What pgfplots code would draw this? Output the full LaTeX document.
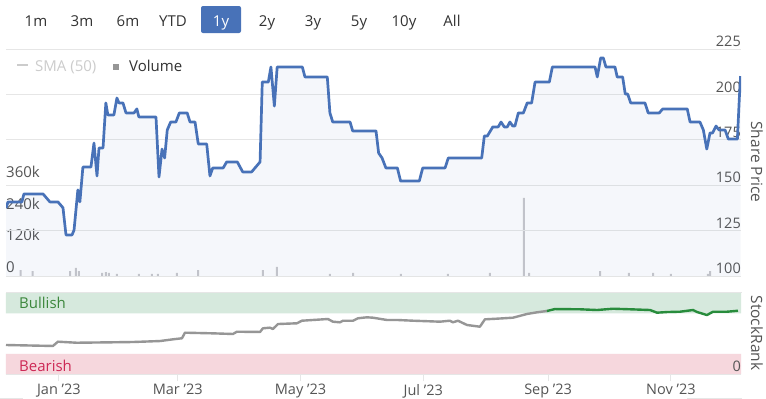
\documentclass[border=0pt]{standalone}
\usepackage{pgfplots}
\pgfplotsset{compat=1.18}
\usepackage{pgfplotstable}
\usepackage{fontspec}
\setmainfont{Open Sans}
\definecolor{priceblue}{RGB}{72,114,184}
\definecolor{gridc}{RGB}{230,230,230}
\definecolor{txt}{RGB}{85,85,85}
\definecolor{btntxt}{RGB}{51,51,51}
\definecolor{volc}{RGB}{200,200,204}
\definecolor{bullfill}{RGB}{214,233,221}
\definecolor{bearfill}{RGB}{246,215,221}
\definecolor{bulltxt}{RGB}{60,135,60}
\definecolor{beartxt}{RGB}{205,40,85}
\definecolor{rankgrey}{RGB}{150,150,150}
\definecolor{rankgreen}{RGB}{40,140,60}
\definecolor{legoff}{RGB}{204,204,204}
\pgfplotsset{/pgf/number format/assume math mode=true}

\pgfplotstableread{
day price
-26.3 137.4
-25.3 140.8
-18.4 140.8
-17.4 145.2
-7.9 145.2
-4.5 140.8
-0.5 140.8
2.0 137.6
3.5 122.6
6.5 122.6
7.5 125.3
9.4 147.4
10.4 140.8
11.9 160.0
15.9 160.0
17.4 173.2
18.9 155.1
19.9 170.5
21.9 170.5
23.3 195.3
24.3 188.7
27.3 188.7
28.8 198.0
29.8 195.3
31.8 195.3
33.3 189.8
37.3 189.8
38.7 192.0
39.7 187.6
48.2 187.6
49.7 154.5
51.2 169.9
52.5 165.0
53.8 180.4
55.5 184.8
58.1 184.8
59.8 189.8
63.7 189.8
65.1 184.8
67.6 184.8
69.2 172.7
73.4 172.7
75.0 155.1
76.4 159.5
81.6 159.5
83.3 162.8
88.6 162.8
91.3 157.3
95.7 157.3
99.9 162.8
101.0 206.8
104.0 206.8
105.3 215.1
107.0 193.6
108.4 215.1
120.9 215.1
122.2 209.6
133.3 209.6
134.6 189.8
136.0 184.8
144.6 184.8
145.9 179.9
157.5 179.9
158.8 167.7
160.5 165.0
162.4 159.5
168.1 159.5
169.7 152.3
179.0 152.3
180.7 159.5
191.8 159.5
193.4 165.0
210.0 165.0
211.3 177.1
212.8 177.1
215.5 182.1
218.2 182.1
219.6 184.8
221.2 182.1
222.7 182.1
224.0 184.8
225.4 182.6
226.5 182.6
228.2 189.8
230.7 189.8
232.6 195.3
234.8 195.3
236.5 206.8
243.6 206.8
245.1 215.1
266.3 215.1
267.4 209.6
269.1 220.1
270.4 220.1
271.7 215.1
276.2 215.1
277.3 209.6
280.0 209.6
281.3 200.2
282.5 200.2
284.0 195.3
291.1 195.3
292.7 189.8
298.2 189.8
299.9 192.0
312.1 192.0
313.5 184.8
318.4 184.8
320.1 180.4
321.8 169.9
323.4 178.8
324.7 178.8
326.4 182.6
327.9 180.4
330.9 180.4
332.5 175.4
337.0 175.4
338.0 198.6
338.6 210.1
}\pricedata

\pgfplotstableread{
day vol
-19.0 22700
-13.1 18900
5.5 18900
8.4 30300
9.9 18900
21.4 11400
23.3 15100
24.8 11400
28.8 7600
39.7 7600
46.2 7600
49.2 7600
58.6 11400
69.1 22700
101.3 22700
108.3 34100
134.6 7600
146.1 11400
169.9 7600
193.2 7600
214.1 11400
231.0 295200
233.5 11400
268.8 18900
283.1 11400
295.1 11400
304.0 7600
322.4 7600
323.4 18900
}\voldata

\pgfplotstableread{
day rank
-26.3 35.8
-3.0 34.6
-0.5 39.9
8.9 38.6
25.3 39.1
36.8 39.5
50.2 40.7
56.6 42.8
61.1 44.1
62.6 51.0
76.5 50.2
86.4 49.4
88.4 52.2
99.9 51.9
101.3 56.4
104.8 57.2
106.3 55.6
108.8 61.7
118.2 62.6
120.7 65.8
133.6 67.9
136.1 64.6
139.6 63.8
141.1 65.8
146.1 65.8
148.5 68.8
153.0 70.0
156.0 69.5
162.9 66.7
167.9 66.7
175.9 65.8
189.3 64.6
194.2 65.8
195.7 63.8
198.2 65.8
202.7 60.5
209.1 58.4
211.6 67.5
217.6 68.3
225.5 69.5
232.5 74.1
237.5 76.2
242.4 77.8
}\rankgrey

\pgfplotstableread{
day rank
242.4 77.8
246.4 80.2
258.8 79.9
267.3 79.0
275.2 80.6
283.7 79.9
293.6 79.0
297.1 75.7
302.1 76.5
308.5 76.9
315.0 79.0
317.0 76.5
321.9 72.8
324.9 76.9
331.9 76.9
337.3 78.1
}\rankgreen

\begin{document}
\begin{tikzpicture}
\useasboundingbox (0pt,0pt) rectangle (766pt,-399pt);
\fill[white] (0pt,0pt) rectangle (766pt,-399pt);

% range selector buttons
\fill[priceblue, rounded corners=2pt] (201pt,-6pt) rectangle (241pt,-33pt);
\begin{scope}[every node/.style={anchor=base, inner sep=0pt, font=\fontsize{15}{16}\selectfont, text=btntxt}]
\node at (36pt,-26pt) {1m};
\node at (82pt,-26pt) {3m};
\node at (128pt,-26pt) {6m};
\node at (173pt,-26pt) {YTD};
\node[text=white] at (221pt,-26pt) {1y};
\node at (267pt,-26pt) {2y};
\node at (313pt,-26pt) {3y};
\node at (359pt,-26pt) {5y};
\node at (404pt,-26pt) {10y};
\node at (452pt,-26pt) {All};
\end{scope}

% legend
\draw[legoff, line width=1.2pt] (17pt,-65pt) -- (28pt,-65pt);
\node[anchor=base west, inner sep=0pt, text=legoff, font=\fontsize{15}{16}\selectfont] at (35pt,-71pt) {SMA (50)};
\fill[rankgrey] (113pt,-64pt) rectangle (119pt,-70pt);
\node[anchor=base west, inner sep=0pt, text=btntxt, font=\fontsize{15}{16}\selectfont] at (129pt,-71pt) {Volume};

% volume axis
\begin{axis}[
  scale only axis, width=735pt, height=227pt,
  at={(6pt,-276pt)}, anchor=south west,
  xmin=-26.3, xmax=338.8, ymin=0, ymax=859000,
  axis y line*=left, axis x line=none,
  axis line style={draw=none},
  ytick={0,120000,240000,360000},
  yticklabels={0,120k,240k,360k},
  scaled y ticks=false,
  major tick length=0pt,
  yticklabel style={anchor=south west, inner sep=0pt, yshift=3pt, xshift=0pt,
     font=\fontsize{15}{16}\selectfont, text=txt},
]
\addplot[ybar, bar width=2pt, fill=volc, draw=none] table[x=day,y=vol] {\voldata};
\end{axis}

% price axis
\begin{axis}[
  scale only axis, width=735pt, height=227pt,
  at={(6pt,-276pt)}, anchor=south west,
  xmin=-26.3, xmax=338.8, ymin=100, ymax=225,
  axis y line*=right, axis x line=none,
  axis line style={draw=none},
  ytick={100,125,150,175,200,225},
  ymajorgrids, grid style={gridc, line width=1pt},
  major tick length=0pt,
  yticklabel style={anchor=south east, inner sep=0pt, yshift=2pt,
     font=\fontsize{14.5}{16}\selectfont, text=txt},
]
\addplot[draw=none, fill=priceblue, fill opacity=0.05] table[x=day,y=price] {\pricedata} \closedcycle;
\addplot[priceblue, line width=2.7pt, line join=round] table[x=day,y=price] {\pricedata};
\end{axis}

\node[rotate=-90, text=txt, font=\fontsize{15.5}{16}\selectfont] at (757pt,-162pt) {Share Price};

% stockrank panel
\draw[gridc, line width=1pt] (6pt,-292pt) -- (742pt,-292pt);
\begin{axis}[
  scale only axis, width=735pt, height=81pt,
  at={(6pt,-374pt)}, anchor=south west,
  xmin=-26.3, xmax=338.8, ymin=0, ymax=100,
  axis on top,
  axis y line*=right, axis x line*=bottom,
  y axis line style={draw=none},
  x axis line style={draw=gridc},
  ytick={0}, yticklabels={0},
  ytick style={draw=none},
  yticklabel style={anchor=south east, inner sep=0pt, yshift=2pt, xshift=-7pt,
     font=\fontsize{14.5}{16}\selectfont, text=txt},
  xtick={0,59,120,181,243,304},
  xticklabels={Jan '23,Mar '23,May '23,Jul '23,Sep '23,Nov '23},
  tick align=outside, major tick length=7pt,
  xtick style={draw=gridc, line width=1pt},
  xticklabel style={inner sep=0pt, yshift=-3pt, font=\fontsize{14.5}{16}\selectfont, text=txt},
]
\addplot[draw=none, fill=bullfill] coordinates {(-26.3,75) (338.8,75) (338.8,100) (-26.3,100) (-26.3,75)};
\addplot[draw=none, fill=bearfill] coordinates {(-26.3,0) (338.8,0) (338.8,25) (-26.3,25) (-26.3,0)};
\addplot[rankgrey, line width=2.4pt, line join=round] table[x=day,y=rank] {\rankgrey};
\addplot[rankgreen, line width=2.4pt, line join=round] table[x=day,y=rank] {\rankgreen};
\end{axis}

\node[anchor=base west, inner sep=0pt, text=bulltxt, font=\fontsize{15}{16}\selectfont] at (19pt,-308pt) {Bullish};
\node[anchor=base west, inner sep=0pt, text=beartxt, font=\fontsize{15}{16}\selectfont] at (19pt,-371pt) {Bearish};
\node[rotate=-90, text=txt, font=\fontsize{15.5}{16}\selectfont] at (757pt,-333pt) {StockRank};

\draw[gridc, line width=1pt] (0pt,-398pt) -- (23pt,-398pt);
\draw[gridc, line width=1pt] (687pt,-398pt) -- (742pt,-398pt);
\end{tikzpicture}
\end{document}
